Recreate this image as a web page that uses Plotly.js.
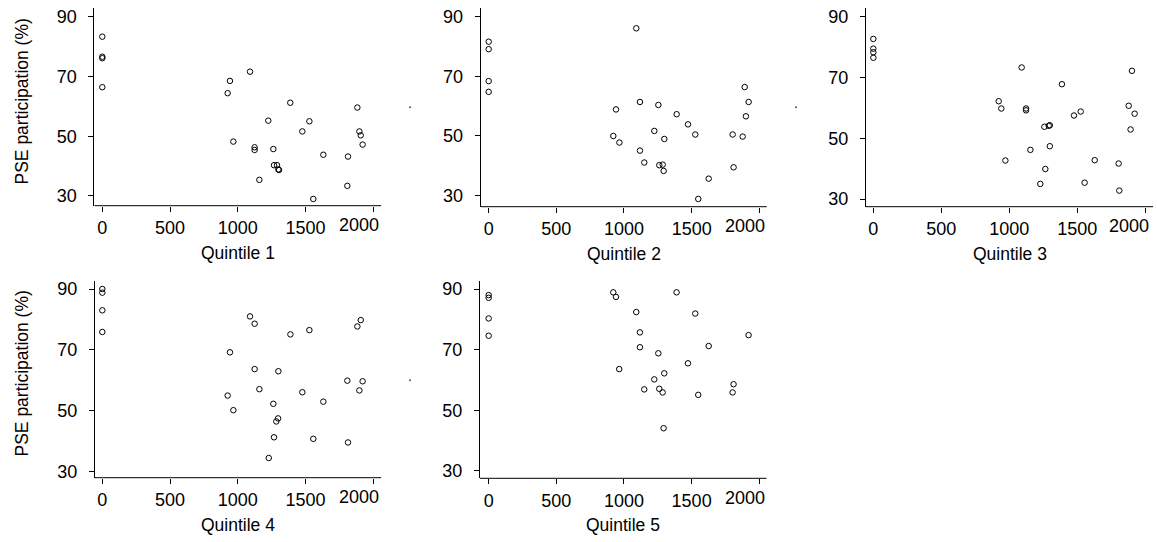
<!DOCTYPE html>
<html>
<head>
<meta charset="utf-8">
<script src="https://cdn.plot.ly/plotly-3.0.1.min.js"></script>
<style>html,body{margin:0;padding:0;background:#fff;}#chart{width:1157px;height:542px;}</style>
</head>
<body>
<div id="chart"></div>
<script>
// ---------- data ----------
const panelTitles = ["Quintile 1", "Quintile 2", "Quintile 3", "Quintile 4", "Quintile 5"];
const yTitle = "PSE participation (%)";
const xTicks = [0, 500, 1000, 1500, 2000];
const xTickLabels = ["0", "500", "1000", "1500", "2000"];
const yTicks = [30, 50, 70, 90];
const yTickLabels = ["30", "50", "70", "90"];

const q1x = [0, 0, 0, 0, 1090, 942, 925, 1387, 1225, 1528, 1882, 1476, 1897, 1907, 1921, 967, 1124, 1124, 1262, 1631, 1813, 1267, 1289, 1299, 1304, 1159, 1808, 1557];
const q1y = [83.3, 76.6, 76.1, 66.4, 71.6, 68.5, 64.4, 61.2, 55.2, 55.0, 59.6, 51.6, 51.6, 50.3, 47.2, 48.2, 46.3, 45.4, 45.7, 43.8, 43.2, 40.3, 40.3, 38.9, 38.7, 35.4, 33.4, 29.0];

const q2x = [0, 0, 0, 0, 1091, 941, 1118, 1254, 1389, 1473, 1224, 1527, 1298, 921, 966, 1118, 1150, 1261, 1286, 1293, 1892, 1921, 1901, 1803, 1877, 1810, 1626, 1549];
const q2y = [81.6, 79.1, 68.4, 64.8, 86.1, 58.9, 61.4, 60.4, 57.3, 53.9, 51.7, 50.5, 49.0, 50.0, 47.8, 45.1, 41.1, 40.2, 40.4, 38.3, 66.4, 61.4, 56.6, 50.5, 49.8, 39.5, 35.7, 28.9];

const q3x = [0, 0, 0, 0, 1091, 922, 941, 1123, 1123, 1387, 1258, 1290, 1298, 971, 1155, 1298, 1265, 1228, 1476, 1525, 1628, 1554, 1902, 1878, 1922, 1892, 1804, 1809];
const q3y = [82.7, 79.5, 78.3, 76.5, 73.3, 62.2, 59.8, 59.8, 59.2, 67.8, 53.8, 54.1, 54.3, 42.7, 46.2, 47.4, 39.9, 35.0, 57.5, 58.8, 42.8, 35.4, 72.2, 60.7, 58.1, 52.9, 41.7, 32.8];

const q4x = [0, 0, 0, 0, 1090, 1124, 1388, 1528, 1882, 1907, 942, 1124, 1299, 925, 1159, 1476, 1631, 1262, 967, 1808, 1921, 1897, 1297, 1284, 1267, 1557, 1813, 1228];
const q4y = [90.0, 88.8, 83.0, 75.9, 81.0, 78.6, 75.1, 76.5, 77.7, 79.8, 69.2, 63.7, 63.0, 55.0, 57.1, 56.1, 53.0, 52.3, 50.2, 59.9, 59.7, 56.7, 47.5, 46.5, 41.3, 40.8, 39.6, 34.5];

const q5x = [0, 0, 0, 0, 921, 941, 1389, 1091, 1527, 1118, 1118, 1626, 1921, 1254, 1473, 965, 1298, 1224, 1150, 1261, 1286, 1549, 1810, 1803, 1293];
const q5y = [88.0, 87.1, 80.3, 74.6, 88.9, 87.4, 88.9, 82.4, 81.9, 75.7, 70.8, 71.2, 74.8, 68.8, 65.5, 63.6, 62.2, 60.2, 56.9, 57.1, 55.9, 55.1, 58.6, 55.9, 44.1];

// tiny stray point seen to the right of panels 1, 2 and 4
const strayPanels = [1, 2, 4];
const strayX = [2271, 2271, 2271];
const strayY = [59.7, 59.6, 60.0];

// ---------- layout (pixel geometry of each panel) ----------
const W = 1157, H = 542;
const geom = [
  {l: 94.3, r: 414.0, t: 8.3, b: 205.7, xr: [-59, 2300], yr: [26.75, 92.8], xEnd: 2057, lastShift: 0},
  {l: 480.7, r: 799.9, t: 8.3, b: 206.7, xr: [-59, 2300], yr: [26.3, 92.8], xEnd: 2055, lastShift: 0},
  {l: 866.0, r: 1153.3, t: 8.3, b: 206.7, xr: [-54, 2059], yr: [27.5, 92.77], xEnd: 2059, lastShift: -2},
  {l: 95.0, r: 414.0, t: 281.0, b: 477.7, xr: [-54, 2300], yr: [28.03, 92.63], xEnd: 2057, lastShift: 0},
  {l: 480.0, r: 766.7, t: 281.0, b: 478.3, xr: [-64, 2055], yr: [27.59, 92.64], xEnd: 2055, lastShift: 0}
];
const xs = [q1x, q2x, q3x, q4x, q5x];
const ys = [q1y, q2y, q3y, q4y, q5y];

const FONT = 'Liberation Sans, Arial, Helvetica, sans-serif';
const TICKSIZE = 18;
const data = [];
const layout = {
  width: W, height: H,
  margin: {l: 0, r: 0, t: 0, b: 0, pad: 0},
  paper_bgcolor: '#ffffff', plot_bgcolor: '#ffffff',
  showlegend: false,
  font: {family: FONT, color: '#000', size: 17},
  shapes: [], annotations: []
};

for (let i = 0; i < 5; i++) {
  const g = geom[i];
  const n = i + 1;
  const xa = 'x' + (n === 1 ? '' : n), ya = 'y' + (n === 1 ? '' : n);
  data.push({
    type: 'scatter', mode: 'markers', x: xs[i], y: ys[i], xaxis: xa, yaxis: ya,
    marker: {symbol: 'circle-open', size: 5.5, color: '#000', line: {width: 1, color: '#000'}},
    hoverinfo: 'x+y'
  });
  const k = strayPanels.indexOf(n);
  if (k >= 0) {
    data.push({
      type: 'scatter', mode: 'markers', x: [strayX[k]], y: [strayY[k]], xaxis: xa, yaxis: ya,
      marker: {symbol: 'circle', size: 2, color: '#555'}, hoverinfo: 'x+y'
    });
  }
  // the last x label is right-aligned to the end of the axis line (drawn as annotation below)
  const tt = xTickLabels.slice();
  const lastLabel = tt[tt.length - 1];
  tt[tt.length - 1] = '';
  layout['xaxis' + (n === 1 ? '' : n)] = {
    domain: [g.l / W, g.r / W], range: g.xr, anchor: ya,
    tickmode: 'array', tickvals: xTicks, ticktext: tt,
    ticks: 'outside', ticklen: 5, tickwidth: 1, tickcolor: '#000',
    showline: false, showgrid: false, zeroline: false,
    tickfont: {family: FONT, size: TICKSIZE, color: '#000'}, ticklabelstandoff: 1,
    fixedrange: true
  };
  layout['yaxis' + (n === 1 ? '' : n)] = {
    domain: [(H - g.b) / H, (H - g.t) / H], range: g.yr, anchor: xa,
    tickmode: 'array', tickvals: yTicks, ticktext: yTickLabels,
    ticks: 'outside', ticklen: 5, tickwidth: 1, tickcolor: '#000',
    showline: true, linecolor: '#000', linewidth: 1, showgrid: false, zeroline: false,
    tickfont: {family: FONT, size: TICKSIZE, color: '#000'}, ticklabelstandoff: 8,
    fixedrange: true
  };
  layout.shapes.push({
    type: 'line', xref: xa, yref: ya + ' domain', x0: g.xr[0], x1: g.xEnd, y0: 0, y1: 0,
    line: {color: '#000', width: 1}
  });
  layout.annotations.push({
    xref: xa, yref: ya + ' domain', x: g.xEnd, y: 0, xanchor: 'right', yanchor: 'top',
    xshift: g.lastShift, yshift: -7.5, borderpad: 1,
    text: lastLabel, showarrow: false,
    font: {family: FONT, size: TICKSIZE, color: '#000'}
  });
  const lineEndPx = g.l + (g.xEnd - g.xr[0]) / (g.xr[1] - g.xr[0]) * (g.r - g.l);
  layout.annotations.push({
    xref: 'paper', yref: 'paper', x: ((g.l + lineEndPx) / 2) / W, y: 1 - (g.b + 47) / H,
    text: panelTitles[i], showarrow: false, xanchor: 'center', yanchor: 'middle',
    font: {family: FONT, size: 17.5, color: '#000'}
  });
}
[102, 374].forEach(function (cy) {
  layout.annotations.push({
    xref: 'paper', yref: 'paper', x: 21.5 / W, y: 1 - cy / H, textangle: -90,
    text: yTitle, showarrow: false, xanchor: 'center', yanchor: 'middle',
    font: {family: FONT, size: 17.5, color: '#000'}
  });
});

Plotly.newPlot('chart', data, layout, {displayModeBar: false, staticPlot: true});
</script>
</body>
</html>
